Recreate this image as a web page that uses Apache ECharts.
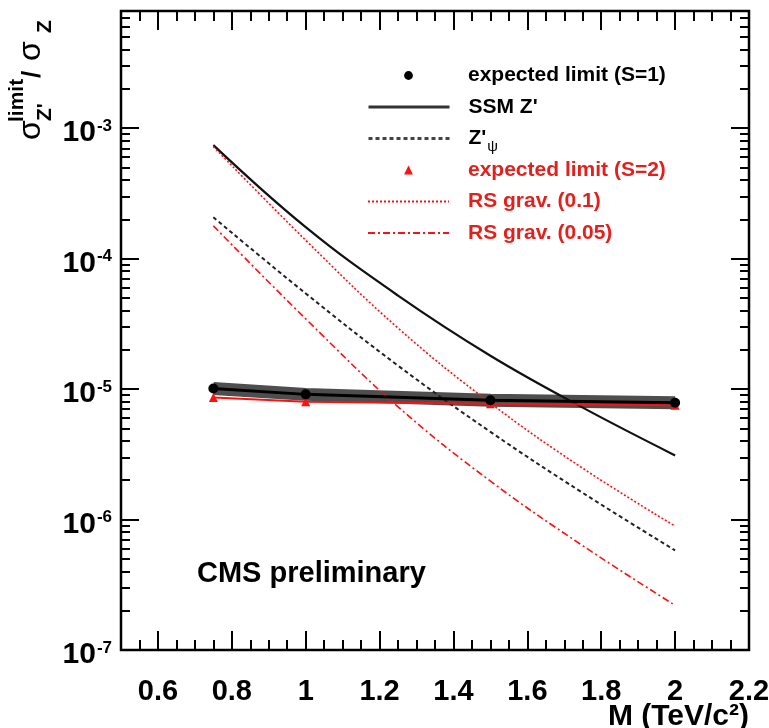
<!DOCTYPE html>
<html>
<head>
<meta charset="utf-8">
<title>Z' limit</title>
<script src="https://cdn.jsdelivr.net/npm/echarts@6/dist/echarts.min.js"></script>
<style>
    html, body { margin: 0; padding: 0; background: #fff; }
    #chart { width: 769px; height: 728px; }
</style>
</head>
<body>
<div id="chart"></div>
<script>
    // mass points of the expected limits (TeV/c^2)
    var massLimit = [0.75, 1.0, 1.5, 2.0];
    var limitS1 = [1.01e-5, 9.1e-6, 8.2e-6, 7.85e-6];
    var limitS2 = [8.6e-6, 8.0e-6, 7.7e-6, 7.5e-6];

    // theory curves
    var massTheory = [0.75, 1.0, 1.25, 1.5, 1.75, 2.0];
    var ssmZp = [7.4e-4, 1.74e-4, 5.2e-5, 1.8e-5, 7.2e-6, 3.1e-6];
    var zpPsi = [2.07e-4, 5.4e-5, 1.51e-5, 4.7e-6, 1.6e-6, 5.8e-7];
    var rsGrav01 = [7.2e-4, 1.38e-4, 2.93e-5, 7.8e-6, 2.47e-6, 8.9e-7];
    var rsGrav005 = [1.78e-4, 3.45e-5, 7.3e-6, 1.97e-6, 6.3e-7, 2.2e-7];

    // ticks
    var xMajorTicks = [0.6, 0.8, 1.0, 1.2, 1.4, 1.6, 1.8, 2.0, 2.2];
    var xMinorTicks = [0.55, 0.65, 0.7, 0.75, 0.85, 0.9, 0.95, 1.05, 1.1, 1.15, 1.25, 1.3, 1.35,
        1.45, 1.5, 1.55, 1.65, 1.7, 1.75, 1.85, 1.9, 1.95, 2.05, 2.1, 2.15];
    var yMajorTicks = [1e-7, 1e-6, 1e-5, 1e-4, 1e-3];
    var yMinorMult = [2, 3, 4, 5, 6, 7, 8, 9];

    var names = ['expected limit (S=1)', "SSM Z'", "Z'ψ", 'expected limit (S=2)', 'RS grav. (0.1)', 'RS grav. (0.05)'];

    var RED = '#ff1010';
    var RED_TXT = '#e3201c';
    var FONT = '"Liberation Sans", Arial, sans-serif';
    var yMin = 1e-7, yMax = 0.00789;

    var yMinorTicks = [];
    for (var d = 0; d < yMajorTicks.length; d++) {
        for (var k = 0; k < yMinorMult.length; k++) {
            var v = yMinorMult[k] * yMajorTicks[d];
            if (v < yMax) yMinorTicks.push(v);
        }
    }

    function pairs(xs, ys) {
        return xs.map(function (x, i) { return [x, ys[i]]; });
    }

    function xAxisDef(pos, ticks, len, labels) {
        return {
            type: 'value', position: pos, min: 0.5, max: 2.2,
            axisLine: {show: false},
            splitLine: {show: false},
            axisTick: {show: true, inside: true, length: len, customValues: ticks, lineStyle: {color: '#000', width: 2}},
            axisLabel: labels ? {
                show: true, customValues: ticks, margin: 27,
                fontFamily: FONT, fontWeight: 'bold', fontSize: 29, color: '#000',
                formatter: function (v) { return String(Number(v.toFixed(1))); }
            } : {show: false}
        };
    }

    function yAxisDef(pos, ticks, len, labels) {
        return {
            type: 'log', logBase: 10, position: pos, min: yMin, max: yMax,
            axisLine: {show: false},
            splitLine: {show: false},
            axisTick: {show: true, inside: true, length: len, customValues: ticks, lineStyle: {color: '#000', width: 2}},
            axisLabel: labels ? {
                show: true, customValues: ticks, margin: 9,
                padding: [10, 0, 0, 0],
                formatter: function (v) {
                    return '{b|10}{s|' + Math.round(Math.log10(v)) + '}';
                },
                rich: {
                    b: {fontFamily: FONT, fontWeight: 'bold', fontSize: 30, lineHeight: 30, color: '#000'},
                    s: {fontFamily: FONT, fontWeight: 'bold', fontSize: 17, lineHeight: 30, color: '#000', padding: [0, 0, 14, 1]}
                }
            } : {show: false}
        };
    }

    function legendItem(i, color, lineOpt, extra) {
        var lg = {
            left: 367, top: 70.5 + i * 31.5 - 5.5,
            padding: 0, itemGap: 0,
            itemWidth: 81, itemHeight: 11,
            selectedMode: false,
            data: [names[i]],
            lineStyle: lineOpt,
            textStyle: {fontFamily: FONT, fontWeight: 'bold', fontSize: 21, color: color, padding: [0, 0, 0, 14]}
        };
        if (extra) Object.assign(lg, extra);
        return lg;
    }

    var chart = echarts.init(document.getElementById('chart'));

    var noSymbol = {itemStyle: {opacity: 0}};

    var option = {
        animation: false,
        backgroundColor: '#fff',
        grid: {left: 121, right: 20, top: 11, bottom: 78, outerBoundsMode: 'none', containLabel: false,
            show: true, borderColor: '#000', borderWidth: 2.5, backgroundColor: 'transparent'},
        xAxis: [
            xAxisDef('bottom', xMajorTicks, 19, true),
            xAxisDef('bottom', xMinorTicks, 10, false),
            xAxisDef('top', xMajorTicks, 19, false),
            xAxisDef('top', xMinorTicks, 10, false)
        ],
        yAxis: [
            yAxisDef('left', yMajorTicks, 18, true),
            yAxisDef('left', yMinorTicks, 9, false),
            yAxisDef('right', yMajorTicks, 18, false),
            yAxisDef('right', yMinorTicks, 9, false)
        ],
        legend: [
            legendItem(0, '#000', {opacity: 0}),
            legendItem(1, '#000', {width: 3, color: '#333'}, noSymbol),
            legendItem(2, '#000', {width: 3, color: '#444'}, {
                itemStyle: {opacity: 0},
                formatter: function () { return "{a|Z'}{s|ψ}"; },
                textStyle: {
                    padding: [0, 0, 0, 14],
                    rich: {
                        a: {fontFamily: FONT, fontWeight: 'bold', fontSize: 21, color: '#000'},
                        s: {fontFamily: FONT, fontSize: 15, color: '#000', padding: [17, 0, 0, 1]}
                    }
                }
            }),
            legendItem(3, RED_TXT, {opacity: 0}),
            legendItem(4, RED_TXT, {width: 2}, noSymbol),
            legendItem(5, RED_TXT, {width: 2}, noSymbol)
        ],
        graphic: [
            {
                type: 'text', left: 197, top: 559,
                style: {text: 'CMS preliminary', fontFamily: FONT, fontWeight: 'bold', fontSize: 29, fill: '#000'}
            },
            {
                type: 'text', x: 749, y: 717,
                style: {text: 'M (TeV/c²)', fontFamily: FONT, fontWeight: 'bold', fontSize: 30, fill: '#000',
                    align: 'right', verticalAlign: 'middle'}
            },
            {
                type: 'group', x: 0, y: 140, rotation: Math.PI / 2,
                children: [
                    {type: 'text', x: 0, y: 31.5, style: {text: 'σ', fontFamily: FONT, fontSize: 32, fill: '#000', align: 'left', verticalAlign: 'middle'}},
                    {type: 'text', x: 18, y: 17.5, style: {text: 'limit', fontFamily: FONT, fontWeight: 'bold', fontSize: 21, fill: '#000', align: 'left', verticalAlign: 'middle'}},
                    {type: 'text', x: 19, y: 45, style: {text: "Z'", fontFamily: FONT, fontWeight: 'bold', fontSize: 21, fill: '#000', align: 'left', verticalAlign: 'middle'}},
                    {type: 'text', x: 62, y: 32.5, style: {text: '/', fontFamily: FONT, fontWeight: 'bold', fontSize: 26, fill: '#000', align: 'left', verticalAlign: 'middle'}},
                    {type: 'text', x: 79, y: 31.5, style: {text: 'σ', fontFamily: FONT, fontSize: 32, fill: '#000', align: 'left', verticalAlign: 'middle'}},
                    {type: 'text', x: 107, y: 45, style: {text: 'Z', fontFamily: FONT, fontWeight: 'bold', fontSize: 21, fill: '#000', align: 'left', verticalAlign: 'middle'}}
                ]
            }
        ],
        series: [
            {
                name: 'band', type: 'line', data: pairs(massLimit, limitS1),
                symbol: 'none', silent: true, z: 2,
                lineStyle: {color: 'rgba(10,10,10,0.72)', width: 13}
            },
            {
                name: names[1], type: 'line', data: pairs(massTheory, ssmZp),
                symbol: 'none', smooth: 0.4, z: 3,
                lineStyle: {color: '#111', width: 2.2}
            },
            {
                name: names[2], type: 'line', data: pairs(massTheory, zpPsi),
                symbol: 'none', smooth: 0.4, z: 3,
                lineStyle: {color: '#222', width: 2, type: [4, 3]}
            },
            {
                name: names[4], type: 'line', data: pairs(massTheory, rsGrav01),
                symbol: 'none', smooth: 0.4, z: 3,
                lineStyle: {color: RED, width: 1.6, type: [2, 2]}
            },
            {
                name: names[5], type: 'line', data: pairs(massTheory, rsGrav005),
                symbol: 'none', smooth: 0.4, z: 3,
                lineStyle: {color: RED, width: 1.6, type: [7, 3, 2, 3]}
            },
            {
                name: names[3], type: 'line', data: pairs(massLimit, limitS2),
                symbol: 'triangle', symbolSize: 9, z: 4,
                itemStyle: {color: RED},
                lineStyle: {color: RED, width: 2}
            },
            {
                name: names[0], type: 'line', data: pairs(massLimit, limitS1),
                symbol: 'circle', symbolSize: 10, z: 5,
                itemStyle: {color: '#000'},
                lineStyle: {color: '#000', width: 3}
            }
        ]
    };

    chart.setOption(option);
</script>
</body>
</html>
